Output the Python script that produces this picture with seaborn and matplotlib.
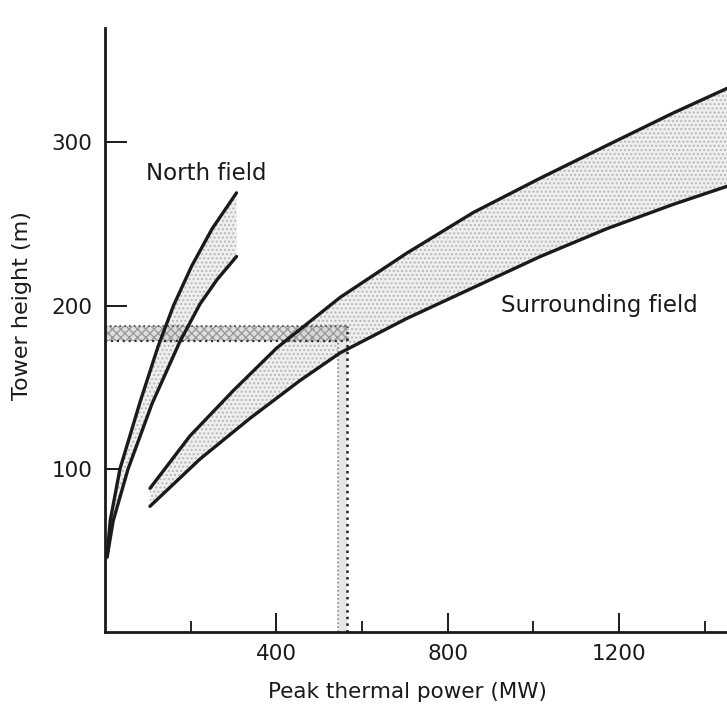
import numpy as np
import matplotlib
matplotlib.use("Agg")
import matplotlib.pyplot as plt
import seaborn as sns

# ---- values ----
# North field envelope
north_upper_x = [5, 12, 35, 82, 124, 160, 202, 250, 307]
north_upper_y = [46, 68, 100, 141, 175, 200, 224, 247, 269]
north_lower_x = [5, 19, 54, 110, 175, 222, 262, 307]
north_lower_y = [46, 68, 100, 140, 178, 201, 216, 230]

# Surrounding field envelope
surr_upper_x = [105, 198, 300, 401, 549, 704, 860, 1016, 1171, 1327, 1452]
surr_upper_y = [88, 120, 148, 174, 205, 232, 257, 278, 298, 318, 333]
surr_lower_x = [105, 222, 339, 455, 549, 704, 860, 1016, 1171, 1327, 1452]
surr_lower_y = [77, 106, 131, 154, 171, 192, 211, 230, 247, 262, 273]

# design point bands (height band and power band)
band_height = [178, 187.5]
band_power = [545, 566]

x_major = [400, 800, 1200]
x_minor = [200, 600, 1000, 1400]
y_major = [100, 200, 300]

sns.set_style("ticks")
plt.rcParams["font.family"] = ["DejaVu Sans"]
ink = "#1a1a1a"

fig = plt.figure(figsize=(7.27, 7.08), dpi=100)
ax = fig.add_axes([105 / 727, 76 / 708, 622 / 727, 604 / 708])

# shaded envelopes
def envelope(xu, yu, xl, yl):
    px = np.r_[xu, xl[::-1]]
    py = np.r_[yu, yl[::-1]]
    ax.fill(px, py, facecolor="#efefef", edgecolor="#b8b8b8", hatch="....", lw=0, zorder=1)
    sns.lineplot(x=xu, y=yu, ax=ax, color=ink, lw=2.4, sort=False, zorder=3)
    sns.lineplot(x=xl, y=yl, ax=ax, color=ink, lw=2.4, sort=False, zorder=3)

envelope(north_upper_x, north_upper_y, north_lower_x, north_lower_y)
envelope(surr_upper_x, surr_upper_y, surr_lower_x, surr_lower_y)

# horizontal band (tower height) and vertical band (thermal power)
ax.fill_between([0, band_power[1]], band_height[0], band_height[1],
                facecolor="#d6d6d6", edgecolor="#8a8a8a", hatch="xxxx", lw=0, alpha=0.8, zorder=2)
ax.fill_between(band_power, 0, band_height[0], facecolor="#e6e6e6", lw=0, zorder=2)
ax.plot([0, band_power[1]], [band_height[1]] * 2, ls=":", color="#555555", lw=1.3, zorder=2)
ax.plot([0, band_power[1]], [band_height[0]] * 2, ls=":", color="#333333", lw=1.6, zorder=2)
ax.plot([band_power[0]] * 2, [0, band_height[0]], ls=":", color="#777777", lw=1.1, zorder=2)
ax.plot([band_power[1]] * 2, [0, band_height[1]], ls=":", color="#222222", lw=1.8, zorder=2)

ax.text(237, 281, "North field", ha="center", va="center", fontsize=16.5, color=ink)
ax.text(1154, 200, "Surrounding field", ha="center", va="center", fontsize=16.5, color=ink)

ax.set_xlim(0, 1452)
ax.set_ylim(0, 370)
ax.set_xticks(x_major)
ax.set_xticks(x_minor, minor=True)
ax.set_yticks(y_major)
ax.tick_params(axis="x", which="major", direction="in", length=13.5, width=1.4,
               labelsize=15.5, pad=9, colors=ink)
ax.tick_params(axis="x", which="minor", direction="in", length=8, width=1.4)
ax.tick_params(axis="y", direction="in", length=16, width=1.4, labelsize=15.5, pad=9, colors=ink)

ax.set_xlabel("Peak thermal power (MW)", fontsize=15.5, color=ink)
ax.set_ylabel("Tower height (m)", fontsize=16, color=ink)
ax.xaxis.set_label_coords(0.487, -0.083)
ax.yaxis.set_label_coords(-0.117, 0.54)

sns.despine(ax=ax)
for s in ["left", "bottom"]:
    ax.spines[s].set_linewidth(2)
    ax.spines[s].set_color(ink)

fig.savefig("out.png", dpi=100)
